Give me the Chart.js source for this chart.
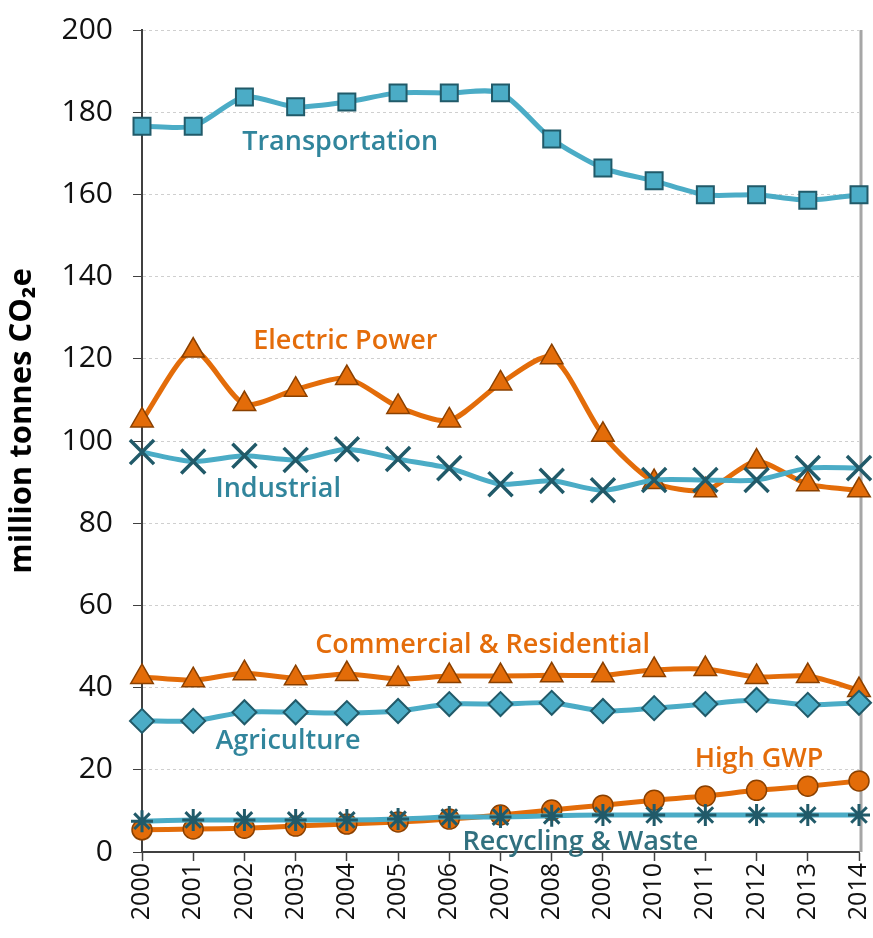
<!DOCTYPE html>
<html>
<head>
<meta charset="utf-8">
<script src="https://cdn.jsdelivr.net/npm/chart.js@4/dist/chart.umd.min.js"></script>
<style>
  html, body { margin: 0; padding: 0; background: #fff; }
  #wrap { width: 873px; height: 938px; }
</style>
</head>
<body>
<div id="wrap"><canvas id="c" width="873" height="938"></canvas></div>
<script>
var years = ['2000','2001','2002','2003','2004','2005','2006','2007','2008','2009','2010','2011','2012','2013','2014'];

var transportation = [176.6, 176.6, 183.7, 181.3, 182.5, 184.7, 184.7, 184.7, 173.5, 166.4, 163.3, 159.9, 159.9, 158.6, 159.9];
var electricPower  = [105.0, 122.0, 109.0, 112.5, 115.3, 108.3, 105.0, 114.0, 120.4, 101.5, 90.0, 88.0, 95.0, 89.5, 88.0];
var industrial     = [97.3, 95.0, 96.4, 95.4, 98.0, 95.6, 93.4, 89.5, 90.3, 88.0, 90.5, 90.5, 90.5, 93.4, 93.4];
var commercial     = [42.6, 41.8, 43.5, 42.3, 43.3, 42.1, 42.8, 42.8, 43.0, 43.0, 44.3, 44.5, 42.6, 42.8, 39.4];
var agriculture    = [31.9, 31.9, 34.0, 34.0, 33.8, 34.3, 36.0, 36.0, 36.3, 34.3, 35.0, 36.0, 37.0, 35.8, 36.3];
var recycling      = [7.5, 7.8, 7.8, 7.8, 7.8, 8.0, 8.5, 8.5, 8.8, 9.0, 9.0, 9.0, 9.0, 9.0, 9.0];
var highGwp        = [5.4, 5.6, 5.8, 6.3, 6.8, 7.3, 8.0, 9.0, 10.2, 11.4, 12.6, 13.6, 15.0, 16.0, 17.3];

var yTicks = [0, 20, 40, 60, 80, 100, 120, 140, 160, 180, 200];

// series labels: [text, x (year index), y (value), colour]
var seriesLabels = [
  ['Transportation', 3.87, 172.7, '#31859c'],
  ['Electric Power', 3.97, 124.3, '#e46c0a'],
  ['Industrial', 2.66, 88.3, '#31859c'],
  ['Commercial & Residential', 6.65, 50.4, '#e46c0a'],
  ['Agriculture', 2.85, 27.0, '#31859c'],
  ['High GWP', 12.05, 22.6, '#e46c0a'],
  ['Recycling & Waste', 8.56, 2.4, '#31707f']
];

var TEAL = '#4bacc6', TEAL_DARK = '#215a69', ORANGE = '#e36c09', ORANGE_DARK = '#8a4000';

function series(label, data, color, style, radius, fill, border, bw) {
  return {
    label: label,
    data: data,
    borderColor: color,
    borderWidth: 5,
    tension: 0.25,
    pointStyle: style,
    pointRadius: radius,
    pointBackgroundColor: fill,
    pointBorderColor: border,
    pointBorderWidth: bw
  };
}

var labelPlugin = {
  id: 'seriesLabels',
  afterDatasetsDraw: function(chart) {
    var ctx = chart.ctx, xs = chart.scales.x, ys = chart.scales.y;
    ctx.save();
    ctx.font = '600 27px "Open Sans", sans-serif';
    ctx.textAlign = 'center';
    ctx.textBaseline = 'middle';
    seriesLabels.forEach(function(l) {
      ctx.fillStyle = l[3];
      ctx.fillText(l[0], xs.getPixelForValue(l[1]), ys.getPixelForValue(l[2]));
    });
    ctx.restore();
  },
  beforeDatasetsDraw: function(chart) {
    var ctx = chart.ctx, a = chart.chartArea;
    ctx.save();
    ctx.strokeStyle = '#a6a6a6';
    ctx.lineWidth = 3;
    ctx.beginPath();
    ctx.moveTo(a.right + 2, a.top);
    ctx.lineTo(a.right + 2, a.bottom);
    ctx.stroke();
    ctx.restore();
  }
};

new Chart(document.getElementById('c'), {
  type: 'line',
  data: {
    labels: years,
    datasets: [
      series('Recycling & Waste', recycling, TEAL, 'star', 11, TEAL_DARK, TEAL_DARK, 3),
      series('High GWP', highGwp, ORANGE, 'circle', 10, ORANGE, ORANGE_DARK, 1.5),
      series('Agriculture', agriculture, TEAL, 'rectRot', 12, TEAL, TEAL_DARK, 2),
      series('Commercial & Residential', commercial, ORANGE, 'triangle', 13, ORANGE, ORANGE_DARK, 1.5),
      series('Industrial', industrial, TEAL, 'crossRot', 17, TEAL_DARK, TEAL_DARK, 3.5),
      series('Electric Power', electricPower, ORANGE, 'triangle', 13, ORANGE, ORANGE_DARK, 1.5),
      series('Transportation', transportation, TEAL, 'rect', 12, TEAL, TEAL_DARK, 2)
    ]
  },
  options: {
    responsive: false,
    animation: false,
    layout: { autoPadding: false, padding: { top: 30, right: 14, left: 0, bottom: 0 } },
    plugins: { legend: { display: false }, tooltip: { enabled: false } },
    scales: {
      x: {
        offset: false,
        afterFit: function(s) { s.height = 86; s.paddingRight = 0; s.paddingLeft = 0; },
        grid: { drawOnChartArea: false, tickLength: 9, tickColor: '#404040', tickWidth: 1.5 },
        border: { color: '#404040', width: 2 },
        ticks: {
          color: '#111',
          font: { family: 'Open Sans', size: 25 },
          minRotation: 90, maxRotation: 90, padding: 2, autoSkip: false
        }
      },
      y: {
        min: 0, max: 200,
        afterFit: function(s) { s.width = 142; s.paddingTop = 0; s.paddingBottom = 0; },
        afterBuildTicks: function(s) { s.ticks = yTicks.map(function(v) { return { value: v }; }); },
        grid: { color: '#cfcfcf', tickColor: '#404040', tickLength: 9, lineWidth: 1 },
        border: { color: '#404040', width: 2, dash: [3, 3] },
        ticks: { color: '#111', font: { family: 'Open Sans', size: 30 }, padding: 20 },
        title: {
          display: true,
          text: '     million tonnes CO₂e',
          color: '#000',
          font: { family: 'Open Sans', size: 31, weight: 'bold' },
          padding: { top: 4, bottom: 0 }
        }
      }
    }
  },
  plugins: [labelPlugin]
});
</script>
</body>
</html>
